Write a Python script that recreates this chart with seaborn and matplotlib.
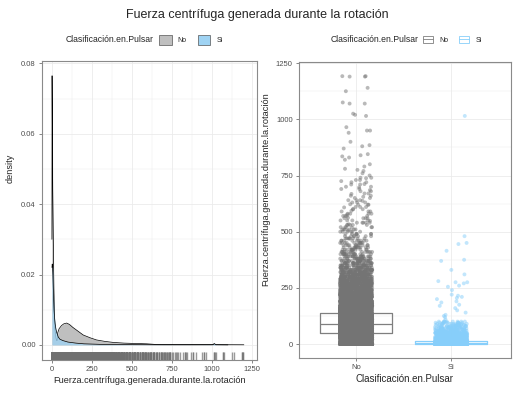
import numpy as np
import pandas as pd
import matplotlib
matplotlib.use("Agg")
import matplotlib.pyplot as plt
from matplotlib.patches import Patch
from matplotlib.lines import Line2D
from matplotlib.ticker import MultipleLocator
import seaborn as sns

sns.set_style("white")
plt.rcParams['font.family'] = ['Liberation Sans', 'DejaVu Sans']

# ---------------- data ----------------
classes = ["No", "Si"]
title = "Fuerza centrífuga generada durante la rotación"
var_label = "Fuerza.centrífuga.generada.durante.la.rotación"
cls_label = "Clasificación.en.Pulsar"

# value levels and counts (No)
no_levels = [0, 10, 20, 30, 40, 50, 60, 70, 80, 90, 100, 110, 120, 130, 140, 150,
             160, 170, 180, 190, 200, 210, 220, 230, 240, 250, 260, 270, 280, 290,
             300, 310, 320, 330, 340, 350, 360, 370, 380, 390, 400, 410, 420, 430,
             440, 450, 460, 470, 480, 490, 500, 510, 520, 530, 540, 550, 560, 570,
             580, 590, 600, 610, 620, 630, 640, 650, 660, 670, 680, 690, 700, 710,
             720, 730, 740]
no_counts = [1000, 200, 250, 400, 600, 600, 620, 620, 600, 580, 560, 520, 470, 420, 360, 270,
             240, 210, 185, 160, 140, 125, 112, 100, 95, 90, 80, 72, 65, 58,
             52, 46, 42, 38, 34, 30, 27, 24, 21, 19, 17, 15, 13, 12,
             11, 10, 9, 8, 7, 7, 6, 6, 5, 5, 5, 4, 4, 4,
             4, 3, 3, 3, 3, 3, 3, 2, 2, 2, 2, 2, 2, 2,
             2, 2, 2]
no_outliers = [1190, 1190, 1192, 1192, 1140, 1125, 1075, 1070, 1070, 1020, 1025, 1015,
               965, 950, 950, 940, 900, 885, 880, 870, 845, 840, 835, 830, 820, 800,
               790, 780, 775, 770, 760, 750, 505, 517, 533, 548, 562, 577, 593, 608,
               622, 637, 655, 668, 685, 697, 712, 725, 738]

si_levels = [0, 5, 10, 15, 20, 25, 30, 35, 40, 45, 50, 55, 60, 65, 70, 75, 80, 85, 90, 95, 100]
si_counts = [800, 450, 300, 200, 90, 70, 55, 45, 40, 35, 30, 26, 23, 20, 18, 16, 14, 12, 11, 10, 9]
si_outliers = [110, 120, 125, 130, 140, 150, 160, 170, 175, 185, 190, 200, 205, 210,
               215, 220, 240, 255, 260, 270, 275, 275, 280, 310, 330, 370, 375, 415,
               445, 450, 480, 1015]

# density curves
dens_x_no = [0, 1, 2, 3, 4, 5, 8, 12, 16, 20, 25, 30, 33, 36, 45, 60, 75, 92, 110, 130,
             160, 196, 240, 279, 330, 383, 450, 520, 593, 650, 750, 850, 950, 1050, 1150, 1200]
dens_y_no = [0.030, 0.0765, 0.069, 0.060, 0.052, 0.044, 0.032, 0.016, 0.008, 0.004, 0.002,
             0.0012, 0.0012, 0.0034, 0.0046, 0.0055, 0.0060, 0.0062, 0.0058, 0.0050,
             0.0040, 0.0028, 0.0020, 0.0014, 0.0010, 0.0007, 0.0005, 0.0004, 0.0003,
             0.00012, 0.0001, 0.00008, 0.00006, 0.00005, 0.00004, 0.00003]
dens_x_si = [0, 2, 4, 6, 8, 10, 13, 16, 20, 25, 30, 40, 50, 70, 100, 150, 200, 300, 400,
             500, 590, 700, 900, 1005, 1015, 1025, 1100]
dens_y_si = [0.022, 0.023, 0.022, 0.020, 0.017, 0.014, 0.010, 0.008, 0.006, 0.0045, 0.0035,
             0.0022, 0.0016, 0.0012, 0.0008, 0.0005, 0.0003, 0.00015, 0.0001, 0.00006,
             0.00005, 0.00003, 0.00002, 0.00003, 0.0004, 0.00003, 0.0]

# ---------------- build table ----------------
no_vals = np.concatenate([np.repeat(no_levels, no_counts), no_outliers])
si_vals = np.concatenate([np.repeat(si_levels, si_counts), si_outliers])
df = pd.DataFrame({
    "cls": ["No"] * len(no_vals) + ["Si"] * len(si_vals),
    "val": np.concatenate([no_vals, si_vals]).astype(float),
})

grey = "#7f7f7f"
blue = "#87CEFA"
fill_no = "#bfbfbf"
fill_si = "#9fd3f3"
grid_c = "#ebebeb"
tick_c = "#4d4d4d"

W, H = 527, 396
fig = plt.figure(figsize=(W / 100, H / 100), dpi=100)
fig.patch.set_facecolor("white")

def px_axes(l, t, r, b):
    return fig.add_axes([l / W, 1 - b / H, (r - l) / W, (b - t) / H])

ax1 = px_axes(42, 61, 257, 360)
ax2 = px_axes(299, 62, 511, 358)

def style(ax):
    ax.set_facecolor("white")
    for s in ax.spines.values():
        s.set_color("#8a8a8a")
        s.set_linewidth(0.8)
    ax.grid(True, which="major", color=grid_c, linewidth=0.6, zorder=0)
    ax.grid(True, which="minor", color=grid_c, linewidth=0.35, zorder=0)
    ax.set_axisbelow(True)
    ax.tick_params(which="major", length=2.5, width=0.5, color="#555555",
                   labelsize=5.5, labelcolor=tick_c, pad=2, bottom=True, left=True)
    ax.tick_params(which="minor", length=0)

# ---------------- left: density + rug ----------------
ax1.fill_between(dens_x_no, dens_y_no, 0, color=fill_no, alpha=1.0, linewidth=0, zorder=2)
ax1.plot(dens_x_no, dens_y_no, color="black", linewidth=0.5, zorder=3)
ax1.fill_between(dens_x_si, dens_y_si, 0, color=fill_si, alpha=0.8, linewidth=0, zorder=4)
ax1.plot(dens_x_si, dens_y_si, color="black", linewidth=0.5, zorder=5)
sns.rugplot(x=df["val"], ax=ax1, height=0.028, color="#707070", linewidth=1.0, alpha=0.7, zorder=6)

ax1.set_xlim(-62, 1282)
ax1.set_ylim(-0.0043, 0.0807)
ax1.set_xticks([0, 250, 500, 750, 1000, 1250])
ax1.set_xticklabels(["0", "250", "500", "750", "1000", "1250"])
ax1.set_yticks([0.0, 0.02, 0.04, 0.06, 0.08])
ax1.set_yticklabels(["0.00", "0.02", "0.04", "0.06", "0.08"])
ax1.xaxis.set_minor_locator(MultipleLocator(125))
ax1.yaxis.set_minor_locator(MultipleLocator(0.01))
style(ax1)
ax1.set_xlabel(var_label, fontsize=6.6, labelpad=2)
ax1.set_ylabel("density", fontsize=6.6)
ax1.yaxis.set_label_coords(-0.125, 0.64)

# ---------------- right: box + jitter ----------------
sns.boxplot(data=df, x="cls", y="val", hue="cls", order=classes, hue_order=classes,
            palette={"No": grey, "Si": blue}, fill=False, width=0.75, showfliers=False,
            showcaps=False, linewidth=0.9, whis=1.5, ax=ax2, legend=False, zorder=2)
for p in ax2.patches:
    p.set_facecolor("white")
sns.stripplot(data=df, x="cls", y="val", hue="cls", order=classes, hue_order=classes,
              palette={"No": "#747474", "Si": blue}, jitter=0.17, size=2.8, alpha=0.5,
              linewidth=0, ax=ax2, legend=False, zorder=3)
ax2.set_xlim(-0.6, 1.63)
ax2.set_ylim(-62, 1255)
ax2.set_yticks([0, 250, 500, 750, 1000, 1250])
ax2.yaxis.set_minor_locator(MultipleLocator(125))
style(ax2)
ax2.set_xlabel(cls_label, fontsize=7, labelpad=2)
ax2.set_ylabel(var_label, fontsize=6.7)
ax2.yaxis.set_label_coords(-0.137, 0.57)

# ---------------- title & legends ----------------
fig.text(257 / W, 1 - 15 / H, title, ha="center", va="center", fontsize=9)

fig.text(154 / W, 1 - 40 / H, cls_label, ha="right", va="center", fontsize=6.2)
h1 = [Patch(facecolor=fill_no, edgecolor="#555555", linewidth=0.5),
      Patch(facecolor=fill_si, edgecolor="#555555", linewidth=0.5)]
leg1 = fig.legend(h1, classes, loc="center left", bbox_to_anchor=(159 / W, 1 - 40 / H),
                  ncol=2, frameon=False, fontsize=5.0, handlelength=1.8, handleheight=1.7,
                  handletextpad=0.9, columnspacing=1.6, borderaxespad=0, borderpad=0)

fig.text(419 / W, 1 - 40 / H, cls_label, ha="right", va="center", fontsize=6.2)
h2 = [(Patch(facecolor="white", edgecolor=grey, linewidth=0.6), Line2D([], [], color=grey, linewidth=0.6)),
      (Patch(facecolor="white", edgecolor=blue, linewidth=0.6), Line2D([], [], color=blue, linewidth=0.6))]
leg2 = fig.legend(h2, classes, loc="center left", bbox_to_anchor=(423 / W, 1 - 40 / H),
                  ncol=2, frameon=False, fontsize=5.0, handlelength=1.5, handleheight=1.2,
                  handletextpad=0.9, columnspacing=1.4, borderaxespad=0, borderpad=0)

fig.savefig("out.png", dpi=100, facecolor="white")
